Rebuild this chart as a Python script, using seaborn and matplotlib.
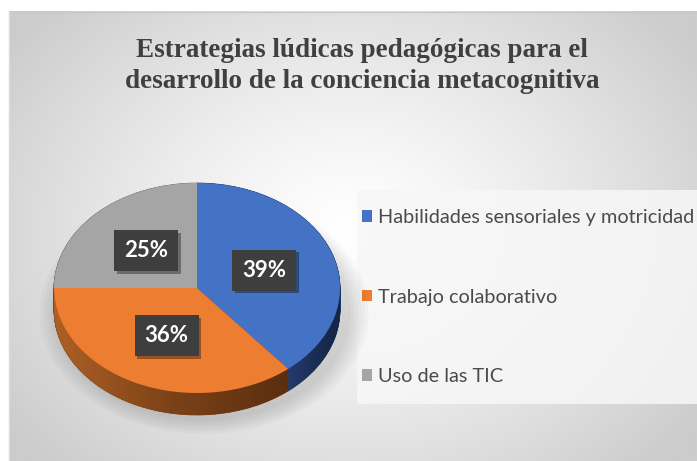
import numpy as np
import matplotlib
matplotlib.use("Agg")
import matplotlib.pyplot as plt
import seaborn as sns
from matplotlib.patches import Rectangle, Ellipse, Polygon
from matplotlib.colors import LinearSegmentedColormap
import matplotlib.patheffects as pe

categories = ["Habilidades sensoriales y motricidad", "Trabajo colaborativo", "Uso de las TIC"]
values = [39, 36, 25]
title = "Estrategias lúdicas pedagógicas para el\ndesarrollo de la conciencia metacognitiva"

sns.set_theme(style="white")
plt.rcParams['font.family'] = ['Lato', 'DejaVu Sans']
plt.rcParams['hatch.color'] = '#575757'
plt.rcParams['hatch.linewidth'] = 1.2

top_colors = sns.color_palette(["#4472C4", "#ED7D31", "#A5A5A5"])
side_colors = sns.color_palette(["#1F3864", "#84451A", "#6E6E6E"])
side_gradients = [["#243b6c", "#1a2e55", "#142646"],
                  ["#ad6026", "#7c4217", "#5a2e0f"],
                  ["#7a7a7a", "#666666", "#555555"]]

W, H = 697, 461
fig = plt.figure(figsize=(W / 100, H / 100), dpi=100, facecolor='white')
ax_bg = fig.add_axes([0, 0, 1, 1])
ax_bg.set_xlim(0, W)
ax_bg.set_ylim(H, 0)
ax_bg.axis('off')

xs = np.linspace(9, W, 400)
ys = np.linspace(12, H, 300)
X, Y = np.meshgrid(xs, ys)
d = np.clip(np.sqrt(((X - 350) / 420) ** 2 + ((Y - 235) / 330) ** 2), 0, 1)
v = 1.0 - 0.2 * d ** 1.3
ax_bg.imshow(np.dstack([v, v, v]), extent=(9, W, H, 12), aspect='auto',
             zorder=0, interpolation='bilinear')
ax_bg.plot([9, W], [12, 12], color='#c8c8c8', lw=1)
ax_bg.plot([9, 9], [12, H], color='#dadada', lw=1)
ax_bg.add_patch(Rectangle((357, 190), 345, 214, facecolor='#f7f7f7',
                          edgecolor='none', alpha=0.85, zorder=1))
ax_bg.text(362, 66, title, ha='center', va='center', fontsize=19.5,
           fontweight='bold', family='Liberation Serif', color='#404040',
           linespacing=1.28)

# pie axes (elliptical, pixel-calibrated)
cx, cy, rx, ry = 197, 288, 143, 105
depth = 0.21
ax = fig.add_axes([(cx - 1.2 * rx) / W, 1 - (cy + 1.45 * ry) / H,
                   2.4 * rx / W, 2.65 * ry / H])
ax.patch.set_alpha(0)

for k in range(6):
    ax.add_patch(Ellipse((0.05, -depth - 0.03), 2.05 + 0.05 * k, 2.05 + 0.05 * k,
                         facecolor='black', edgecolor='none', alpha=0.025, zorder=0))

for t in np.linspace(depth, 0.0, 40):
    ws, _ = ax.pie(values, colors=side_colors, startangle=90, counterclock=False,
                   center=(0, -t), wedgeprops=dict(linewidth=0.5))
    for w in ws:
        w.set_edgecolor(w.get_facecolor())

wedges, _, autotexts = ax.pie(values, colors=top_colors, startangle=90,
                              counterclock=False, autopct=lambda p: f"{p:.0f}%",
                              pctdistance=0.5, wedgeprops=dict(linewidth=0))

# gradient shading on the visible side faces
for w, grad in zip(wedges, side_gradients):
    t1, t2 = w.theta1, w.theta2
    for shift in (-360, 0, 360):
        a, b = max(t1 + shift, -180), min(t2 + shift, 0)
        if b > a:
            th = np.radians(np.linspace(a, b, 80))
            top = np.column_stack([np.cos(th), np.sin(th)])
            bot = np.column_stack([np.cos(th[::-1]), np.sin(th[::-1]) - depth])
            poly = Polygon(np.vstack([top, bot]), closed=True, facecolor='none',
                           edgecolor='none', transform=ax.transData)
            ax.add_patch(poly)
            cmap = LinearSegmentedColormap.from_list('side', grad)
            x0, x1 = np.cos(th).min(), np.cos(th).max()
            im = ax.imshow(np.linspace(0, 1, 200)[None, :], cmap=cmap,
                           extent=(x0, x1, -1 - depth, 0), aspect='auto',
                           zorder=1.5, interpolation='bilinear')
            im.set_clip_path(poly)

for w in wedges:
    w.set_zorder(3)

ax.set_aspect('auto')
ax.set_xlim(-1.2, 1.2)
ax.set_ylim(-1.45, 1.2)
ax.axis('off')

for t in autotexts:
    t.set_color('white')
    t.set_fontsize(16)
    t.set_fontweight('bold')
    t.set_zorder(5)
    t.set_bbox(dict(boxstyle='square,pad=0.45', facecolor='#3e3e3e',
                    edgecolor='none', hatch='.'))
    t.get_bbox_patch().set_path_effects([
        pe.SimplePatchShadow(offset=(2, -2), shadow_rgbFace='black', alpha=0.35),
        pe.Normal()])

leg = ax_bg.legend(wedges, categories, loc='upper left',
                   bbox_to_anchor=(362, 209), bbox_transform=ax_bg.transData,
                   frameon=False, fontsize=14.3, labelspacing=3.15,
                   handlelength=0.5, handleheight=0.5, handletextpad=0.3,
                   borderpad=0, borderaxespad=0, labelcolor='#4a4a4a')

fig.savefig('out.png', dpi=100, facecolor='white')
